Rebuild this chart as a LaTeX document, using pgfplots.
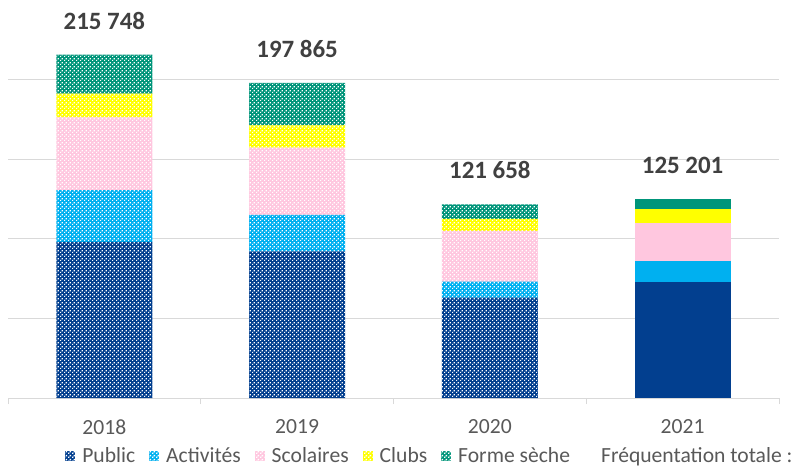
\documentclass[border=0pt]{standalone}
\usepackage{fontspec}
\setmainfont{Carlito}
\usepackage{pgfplots}
\pgfplotsset{compat=1.18}
\usetikzlibrary{patterns}

\definecolor{cpub}{HTML}{023F8F}
\definecolor{cact}{HTML}{00B0F0}
\definecolor{csco}{HTML}{FFC7DF}
\definecolor{cclu}{HTML}{FFFF00}
\definecolor{cfor}{HTML}{00957A}
\definecolor{cgrid}{HTML}{D9D9D9}
\definecolor{ctxt}{HTML}{595959}
\definecolor{ctot}{HTML}{404040}

% white dots laid over the fill colour
\pgfdeclarepatternformonly{wdot}{\pgfpointorigin}{\pgfpoint{3pt}{3pt}}{\pgfpoint{3pt}{3pt}}{%
  \pgfpathrectangle{\pgfpointorigin}{\pgfpoint{1.15pt}{1.15pt}}%
  \pgfpathrectangle{\pgfpoint{1.5pt}{1.5pt}}{\pgfpoint{1.15pt}{1.15pt}}%
  \pgfusepath{fill}}

\pgfplotsset{
  pat/.style={draw=none, fill=#1, postaction={pattern=wdot, pattern color=white}},
  frame/.style={at={(0,0)}, anchor=south west, scale only axis,
    width=578.25pt, height=298.5pt,
    xmin=-0.5, xmax=3.5, ymin=0, ymax=250000},
}

\begin{document}
\begin{tikzpicture}
\begin{axis}[
  frame,
  ybar stacked,
  bar width=72pt,
  xtick={0,1,2,3},
  xticklabels={2018,2019,2020,2021},
  minor xtick={-0.5,0.5,1.5,2.5,3.5},
  major tick length=0pt,
  minor tick length=4.5pt,
  tick align=outside,
  minor tick style={cgrid, line width=0.75pt},
  xticklabel style={font=\fontsize{16.2}{19}\selectfont, text=ctxt, inner sep=0pt, yshift=-16pt},
  ytick={0,50000,...,250000},
  yticklabels={},
  ytick style={draw=none},
  ymajorgrids,
  grid style={cgrid, line width=0.75pt},
  axis x line*=bottom,
  axis y line*=left,
  x axis line style={cgrid, line width=0.75pt, -},
  y axis line style={draw=none},
  legend image code/.code={\path[#1] (0pt,-3.75pt) rectangle (7.5pt,3.75pt);},
  legend columns=6,
  legend cell align=left,
  legend style={draw=none, fill=none, inner sep=0pt,
    at={(axis description cs:0,0)}, anchor=west, xshift=42.75pt, yshift=-43.5pt,
    font=\fontsize{16.2}{19}\selectfont, text=ctxt,
    nodes={inner sep=0pt},
    /tikz/every odd column/.append style={column sep=5.25pt},
    /tikz/every even column/.append style={column sep=10.5pt}},
]
% Public
\addplot[pat=cpub] coordinates {(0,98125) (1,92060) (2,63125) (3,0)};
\addlegendentry{Public}
\addplot[draw=none, fill=cpub, forget plot] coordinates {(0,0) (1,0) (2,0) (3,73125)};
% Activites
\addplot[pat=cact] coordinates {(0,32500) (1,22940) (2,10000) (3,0)};
\addlegendentry{Activités}
\addplot[draw=none, fill=cact, forget plot] coordinates {(0,0) (1,0) (2,0) (3,13125)};
% Scolaires
\addplot[pat=csco] coordinates {(0,45625) (1,42300) (2,31875) (3,0)};
\addlegendentry{Scolaires}
\addplot[draw=none, fill=csco, forget plot] coordinates {(0,0) (1,0) (2,0) (3,23540)};
% Clubs
\addplot[pat=cclu] coordinates {(0,15000) (1,13960) (2,7500) (3,0)};
\addlegendentry{Clubs}
\addplot[draw=none, fill=cclu, forget plot] coordinates {(0,0) (1,0) (2,0) (3,8960)};
% Forme seche
\addplot[pat=cfor] coordinates {(0,24498) (1,26605) (2,9158) (3,0)};
\addlegendentry{Forme sèche}
\addplot[draw=none, fill=cfor, forget plot] coordinates {(0,0) (1,0) (2,0) (3,6451)};
\addlegendimage{draw=none}
\addlegendentry{Fréquentation totale :}
\end{axis}
% totals above the bars
\begin{axis}[frame, hide axis]
\addplot[draw=none, mark=none, point meta=explicit symbolic, nodes near coords,
  nodes near coords align={anchor=base, yshift=19pt},
  every node near coord/.append style={font=\bfseries\fontsize{18.7}{22}\selectfont, text=ctot}]
  coordinates {(0,215748)[215 748] (1,197865)[197 865] (2,121658)[121 658] (3,125201)[125 201]};
\end{axis}
\pgfresetboundingbox
\useasboundingbox (-6pt,-50.25pt) rectangle (589.5pt,298.5pt);
\end{tikzpicture}
\end{document}
